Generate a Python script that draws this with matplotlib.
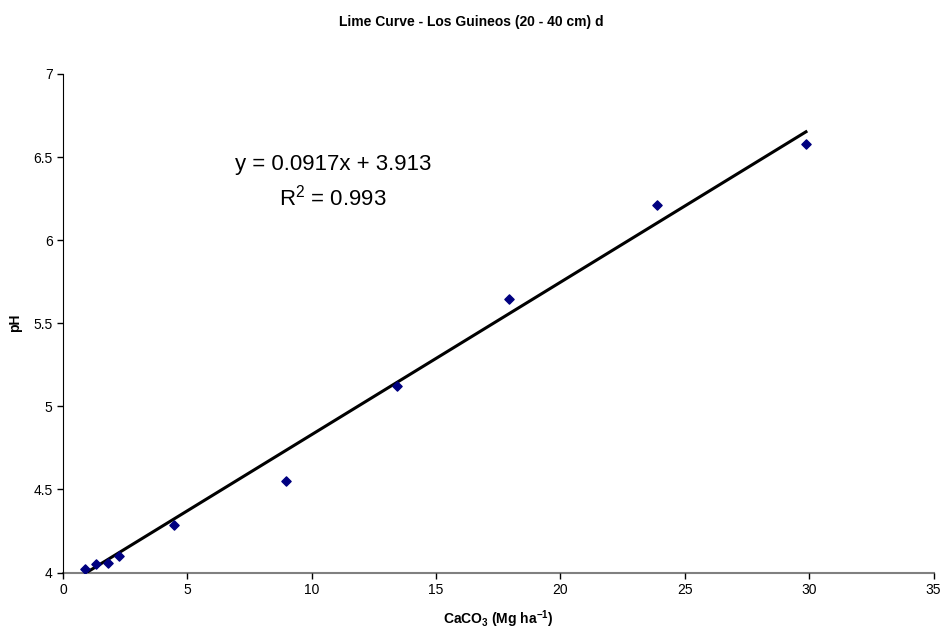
import numpy as np
import matplotlib
matplotlib.use("Agg")
import matplotlib.pyplot as plt

plt.rcParams['font.family'] = ['Liberation Sans', 'DejaVu Sans']
plt.rcParams['mathtext.fontset'] = 'custom'
plt.rcParams['mathtext.rm'] = 'Liberation Sans'
plt.rcParams['mathtext.bf'] = 'Liberation Sans:bold'
plt.rcParams['mathtext.it'] = 'Liberation Sans:italic'

# Data
caco3 = [0.90, 1.34, 1.79, 2.24, 4.48, 8.96, 13.44, 17.92, 23.90, 29.87]
ph = [4.019, 4.053, 4.057, 4.101, 4.286, 4.549, 5.124, 5.644, 6.211, 6.580]

slope = 0.0917
intercept = 3.913
x_ticks = [0, 5, 10, 15, 20, 25, 30, 35]
y_ticks = [4, 4.5, 5, 5.5, 6, 6.5, 7]
y_tick_labels = ['4', '4.5', '5', '5.5', '6', '6.5', '7']

fig = plt.figure(figsize=(9.43, 6.29), dpi=100)
ax = fig.add_axes([0.0668, 0.0898, 0.9232, 0.7926])

# linear trendline over the data range
xt = np.array([min(caco3), max(caco3)])
ax.plot(xt, slope * xt + intercept, color='black', linewidth=2.2, zorder=2)
ax.scatter(caco3, ph, marker='D', s=22, color='#000080', zorder=3)

ax.set_xlim(0, 35)
ax.set_ylim(4, 7)
ax.set_xticks(x_ticks)
ax.set_yticks(y_ticks)
ax.set_yticklabels(y_tick_labels)
ax.tick_params(labelsize=10, length=4, direction='out', width=1)

ax.spines['top'].set_visible(False)
ax.spines['right'].set_visible(False)
ax.spines['left'].set_color('black')
ax.spines['bottom'].set_color('#808080')
ax.spines['bottom'].set_linewidth(1.5)
ax.spines['bottom'].set_zorder(1)
ax.tick_params(axis='x', color='black')

ax.text(10.86, 6.35, 'y = 0.0917x + 3.913\nR$^2$ = 0.993', fontsize=16,
        ha='center', va='center', linespacing=1.45)

ax.set_xlabel(r'$\mathbf{CaCO_3\ (Mg\ ha^{-1})}$', fontsize=10, labelpad=8)
ax.set_ylabel('pH', fontsize=10, fontweight='bold', labelpad=8)
fig.suptitle('Lime Curve - Los Guineos (20 - 40 cm) d', fontsize=10,
             fontweight='bold', y=0.976)

plt.savefig('out.png', dpi=100)
